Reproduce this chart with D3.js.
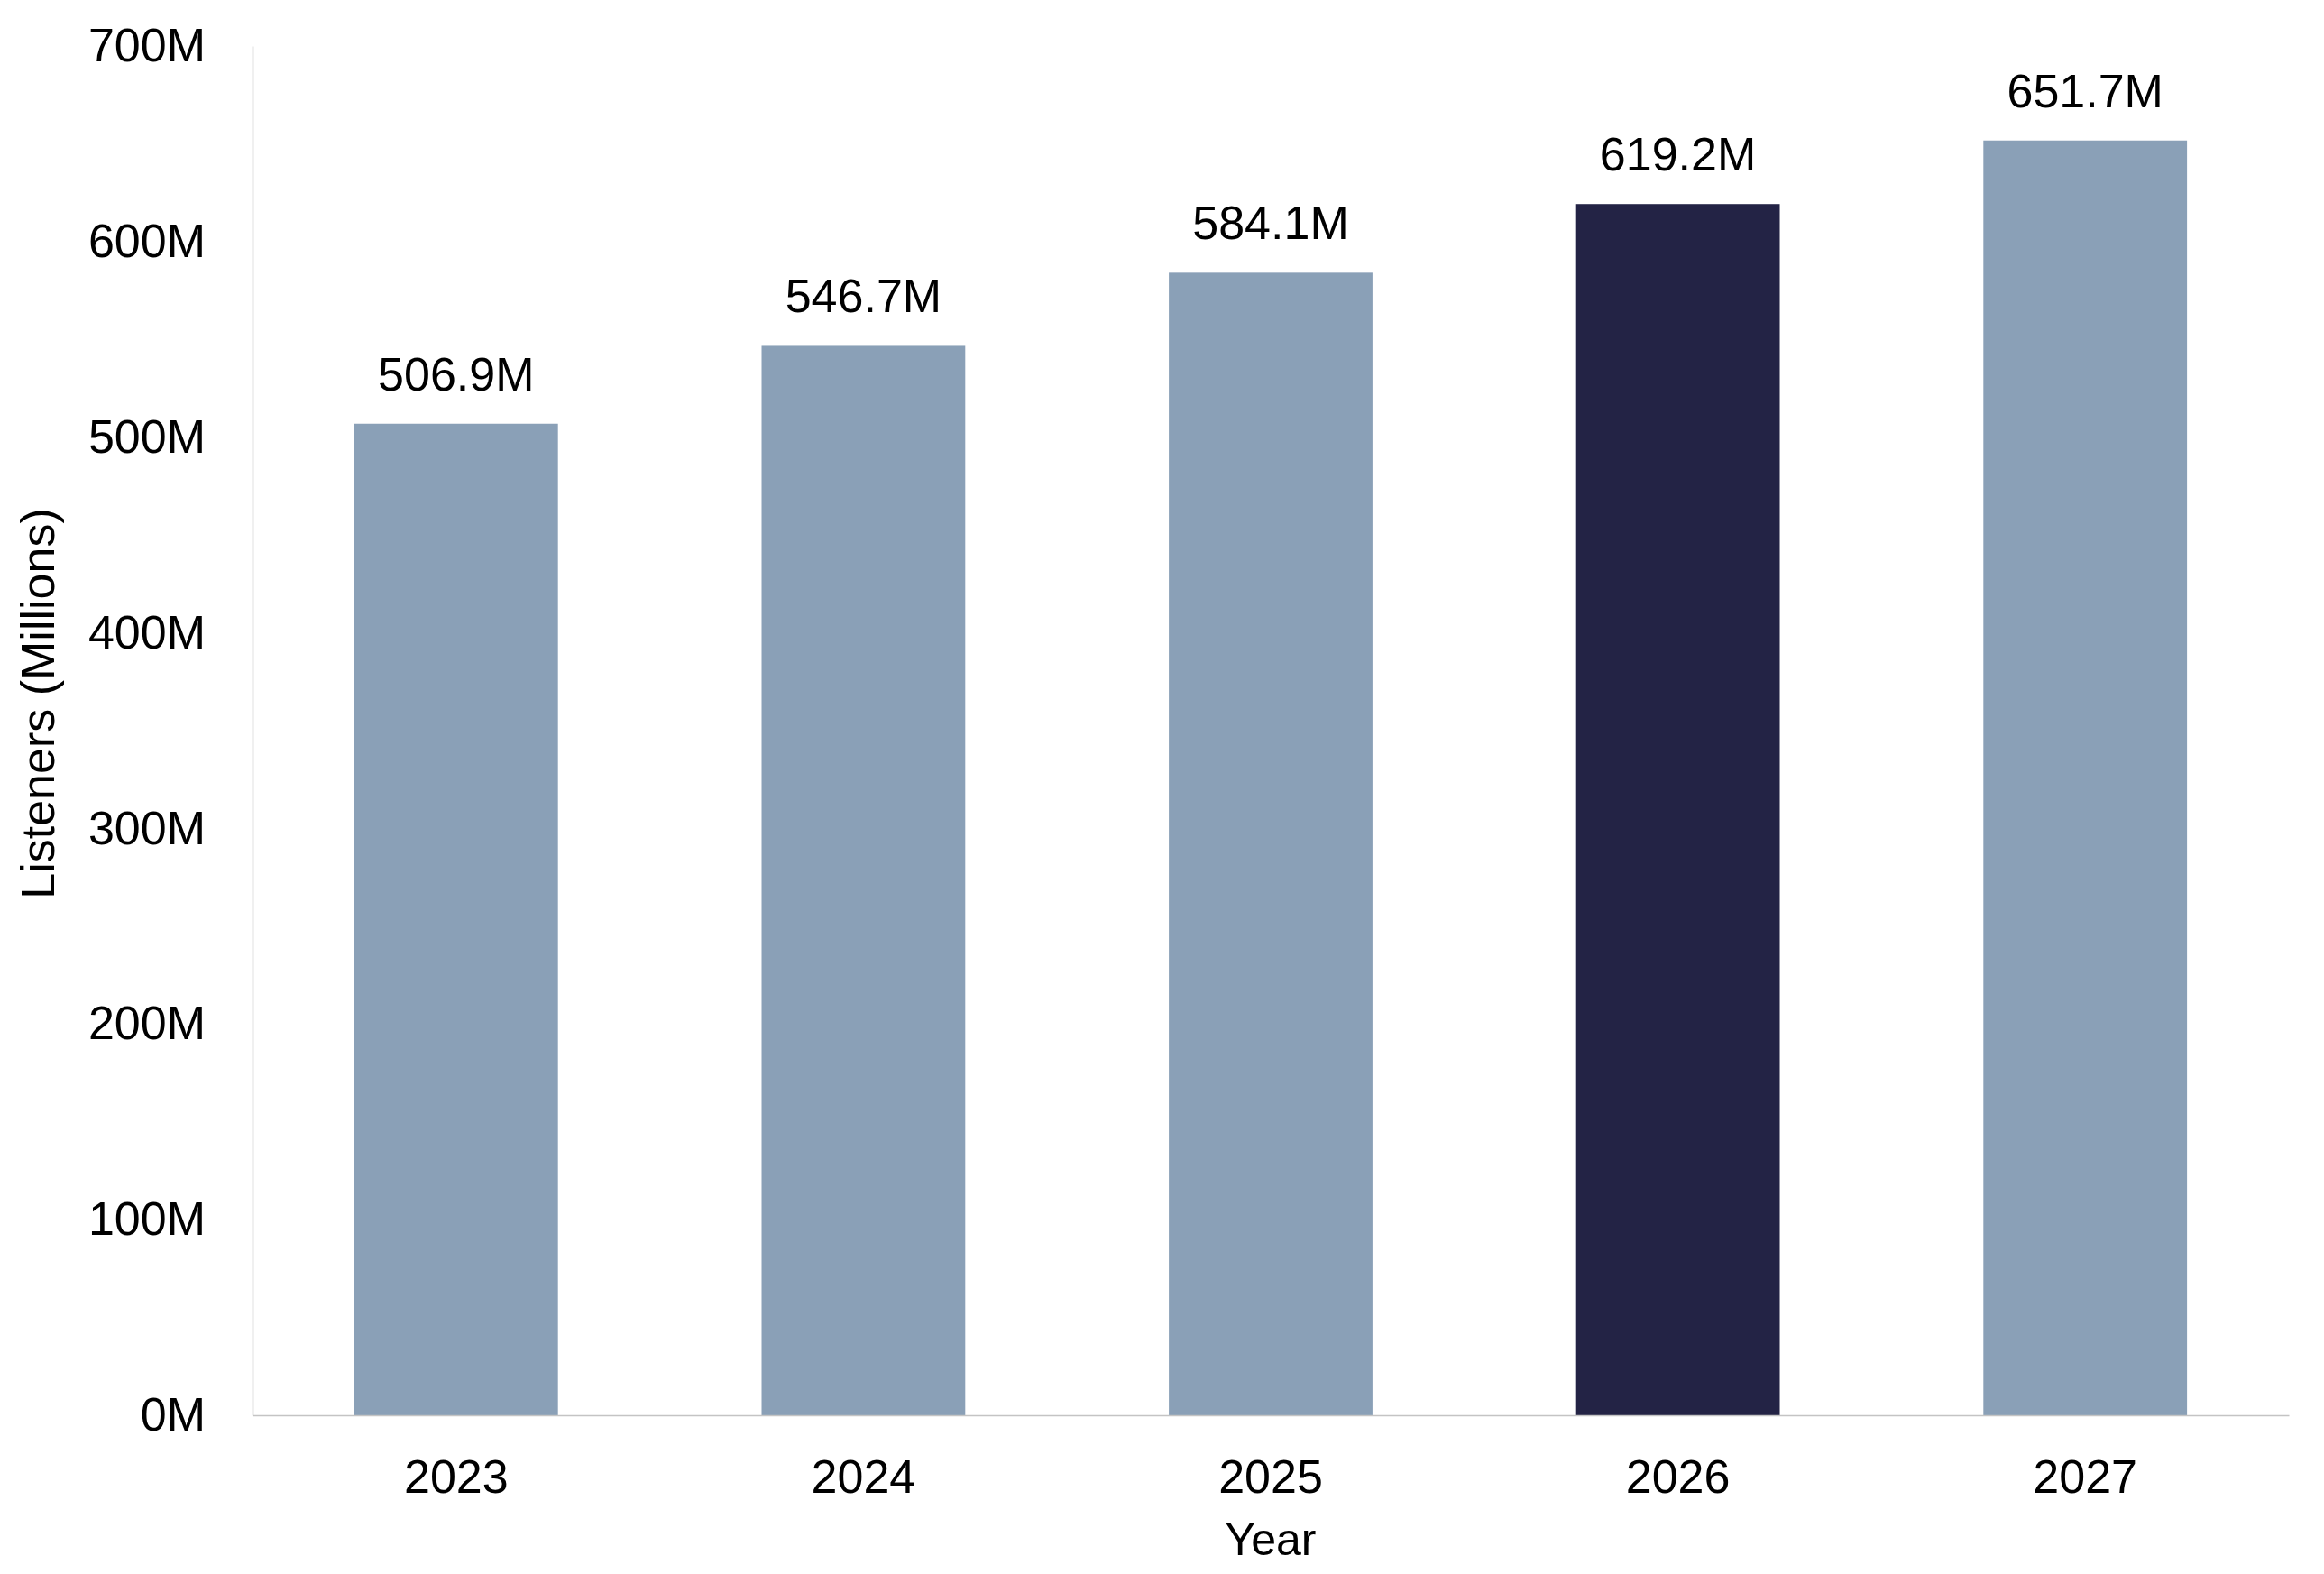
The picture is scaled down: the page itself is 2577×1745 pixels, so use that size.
<!DOCTYPE html>
<html>
<head>
<meta charset="utf-8">
<script src="https://cdn.jsdelivr.net/npm/d3@7"></script>
<style>
  body { margin: 0; background: #fff; }
  text { font-family: "Liberation Sans", Arial, sans-serif; fill: #000; }
</style>
</head>
<body>
<div id="chart"></div>
<script>
// Chart data
const years = ["2023", "2024", "2025", "2026", "2027"];
const listeners = [506.9, 546.7, 584.1, 619.2, 651.7];
const highlightYear = "2026";
const yTicks = [0, 100, 200, 300, 400, 500, 600, 700];

const width = 2577, height = 1745;
const margin = { top: 51, right: 39, bottom: 176, left: 280 };
const fontSize = "52px";

const svg = d3.select("#chart")
              .append("svg")
              .attr("width", width)
              .attr("height", height);

const x = d3.scaleBand()
            .domain(years)
            .range([margin.left, width - margin.right])
            .paddingInner(0.5)
            .paddingOuter(0.25);

const y = d3.scaleLinear()
            .domain([0, 700])
            .range([height - margin.bottom, margin.top]);

// Bars
svg.selectAll("rect.bar")
   .data(years)
   .enter()
   .append("rect")
   .attr("class", "bar")
   .attr("x", d => x(d))
   .attr("width", x.bandwidth())
   .attr("y", (d, i) => y(listeners[i]))
   .attr("height", (d, i) => y(0) - y(listeners[i]))
   .attr("fill", d => d === highlightYear ? "#232345" : "#8aa0b7");

// Value labels
svg.selectAll("text.value")
   .data(years)
   .enter()
   .append("text")
   .attr("class", "value")
   .attr("x", d => x(d) + x.bandwidth() / 2)
   .attr("y", (d, i) => y(listeners[i]) - 37)
   .attr("text-anchor", "middle")
   .style("font-size", fontSize)
   .text((d, i) => listeners[i].toFixed(1) + "M");

// Axes
const yAxis = svg.append("g")
   .attr("transform", `translate(${margin.left},0)`)
   .call(d3.axisLeft(y).tickValues(yTicks).tickSize(0).tickPadding(52).tickFormat(d => d + "M"));

const xAxis = svg.append("g")
   .attr("transform", `translate(0,${y(0)})`)
   .call(d3.axisBottom(x).tickSize(0).tickPadding(49));

[yAxis, xAxis].forEach(g => {
  g.select(".domain").attr("stroke", "#c4c4c4").attr("stroke-width", 1.5);
  g.selectAll("text").style("font-size", fontSize).style("font-family", "'Liberation Sans', Arial, sans-serif").attr("fill", "#000");
});

// Axis titles
svg.append("text")
   .attr("x", (margin.left + width - margin.right) / 2)
   .attr("y", 1724)
   .attr("text-anchor", "middle")
   .style("font-size", "50px")
   .text("Year");

svg.append("text")
   .attr("transform", "translate(60,780) rotate(-90)")
   .attr("text-anchor", "middle")
   .style("font-size", fontSize)
   .text("Listeners (Millions)");
</script>
</body>
</html>
